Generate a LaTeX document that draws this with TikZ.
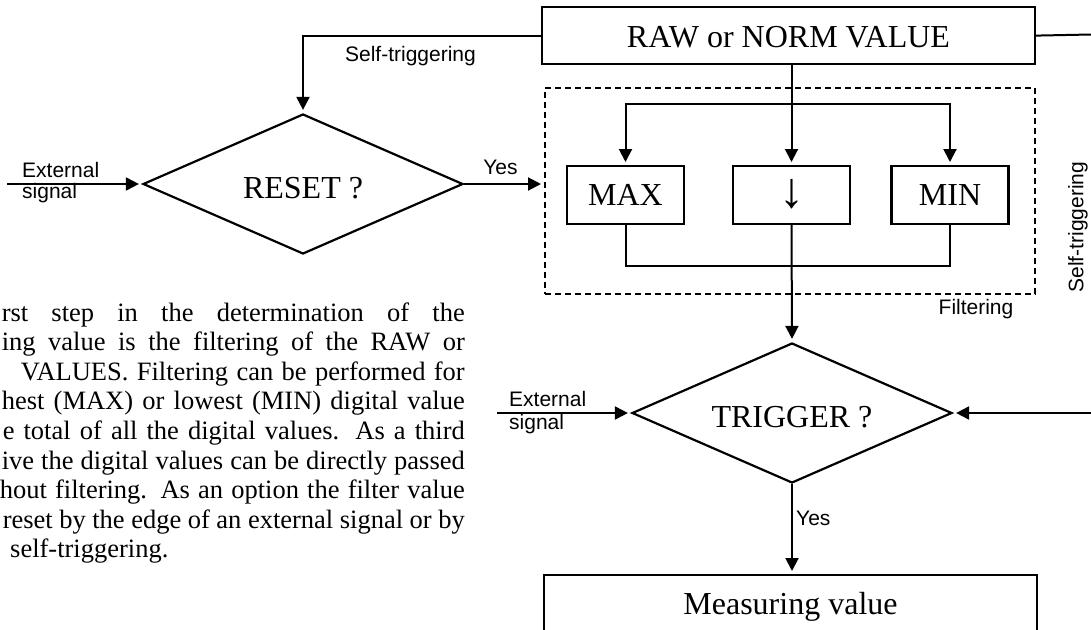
\documentclass[tikz,border=0pt]{standalone}
\usepackage{fontspec}
\setmainfont{Liberation Serif}
\setsansfont{Liberation Sans}
\usetikzlibrary{arrows.meta,shapes.geometric,calc}

\begin{document}
\begin{tikzpicture}[x=1pt,y=-1pt,
  conn/.style={draw, line width=2pt},
  arr/.style={conn, -{Triangle[length=13pt,width=13pt]}, shorten >=3pt},
  bigbox/.style={draw, line width=2.2pt, inner sep=0pt, minimum width=493pt,
    text height=40pt, text depth=17pt, anchor=north,
    font=\fontsize{32}{38}\selectfont},
  filt/.style={draw, line width=2.2pt, inner sep=0pt, minimum width=117pt,
    text height=39pt, text depth=19pt, anchor=north,
    font=\fontsize{32}{38}\selectfont},
  dia/.style={draw, diamond, line width=2.2pt, inner sep=0pt, aspect=2.286,
    minimum width=320pt, minimum height=140pt, text height=28pt, text depth=0pt,
    font=\fontsize{32}{38}\selectfont},
  lbl/.style={inner sep=0pt, font=\sffamily\fontsize{21}{24}\selectfont},
  para/.style={inner sep=0pt, anchor=base east, font=\fontsize{26.5}{30}\selectfont},
]
\useasboundingbox (0,0) rectangle (1091,629);
\clip (0,0) rectangle (1091,629);

% --- value source and filter stage ---
\node[bigbox] (raw) at (788.5,6) {RAW or NORM VALUE};
\node[draw, dash pattern=on 6pt off 4pt, line width=2pt, inner sep=0pt,
      minimum width=490pt, minimum height=206pt, anchor=north west] (filter) at (544,87) {};
\node[filt] (max) at (625.5,165) {MAX};
\node[filt] (mid) at (791.5,165) {\fontsize{50}{56}\selectfont\raisebox{-2pt}{↓}};
\node[filt] (min) at (950,165) {MIN};
\node[lbl, anchor=base] (filtlbl) at (976,314.5) {Filtering};

% --- decisions ---
\node[dia] (reset) at (303,184) {RESET ?};
\node[dia] (trig) at (792,413) {TRIGGER ?};

% --- result ---
\node[bigbox, text height=39pt, text depth=60pt] (meas) at (790.5,574) {Measuring value};

% --- reset branch ---
\draw[arr] (raw.west) -| (reset.north);
\node[lbl, anchor=base] (selftop) at (410.5,61.5) {Self-triggering};
\coordinate (extA) at (7,184);
\draw[arr] (extA) -- (reset.west);
\node[lbl, anchor=base west] (extAa) at (22,177.5) {External};
\node[lbl, anchor=base west] (extAb) at (22,198.5) {signal};
\draw[arr] (reset.east) -- (reset.east -| filter.west);
\node[lbl, anchor=base] (yesA) at (500.5,174.5) {Yes};

% --- filter wiring ---
\coordinate (br) at (791.5,104);
\coordinate (jn) at (791.5,266);
\draw[arr] (raw.south -| mid.north) -- (mid.north);
\draw[arr] (br) -| (max.north);
\draw[arr] (br) -| (min.north);
\draw[conn] (max.south) |- (jn) -| (min.south);
\draw[arr] (mid.south) -- (trig.north);

% --- trigger branch ---
\coordinate (extB) at (497,413);
\draw[arr] (extB) -- (trig.west);
\node[lbl, anchor=base west] (extBa) at (509,406.5) {External};
\node[lbl, anchor=base west] (extBb) at (509,429.5) {signal};
\coordinate (edgeA) at (1091,34.5);
\coordinate (edgeB) at (1091,413);
\draw[conn] (raw.east) -- (edgeA);
\draw[arr] (edgeB) -- (trig.east);
\node[lbl, rotate=90] (selfside) at (1078,227) {Self-triggering};
\draw[arr] (trig.south) -- (trig.south |- meas.north);
\node[lbl, anchor=base west] (yesB) at (796,525.5) {Yes};

% --- description text ---
\node[para] (p1) at (465,321) {\makebox[463pt][s]{rst step in the determination of the}};
\node[para] (p2) at (465,350.6) {\makebox[463pt][s]{ing value is the filtering of the RAW or}};
\node[para] (p3) at (465,380.2) {\makebox[444pt][s]{VALUES. Filtering can be performed for}};
\node[para] (p4) at (465,409.8) {\makebox[463pt][s]{hest (MAX) or lowest (MIN) digital value}};
\node[para] (p5) at (465,439.4) {\makebox[462pt][s]{e total of all the digital values. As a third}};
\node[para] (p6) at (465,469) {\makebox[463pt][s]{ive the digital values can be directly passed}};
\node[para] (p7) at (465,498.6) {\makebox[465pt][s]{hout filtering. As an option the filter value}};
\node[para] (p8) at (465,528.2) {\makebox[462pt][s]{reset by the edge of an external signal or by}};
\node[para, anchor=base west] (p9) at (10,557.8) {self-triggering.};
\end{tikzpicture}
\end{document}
